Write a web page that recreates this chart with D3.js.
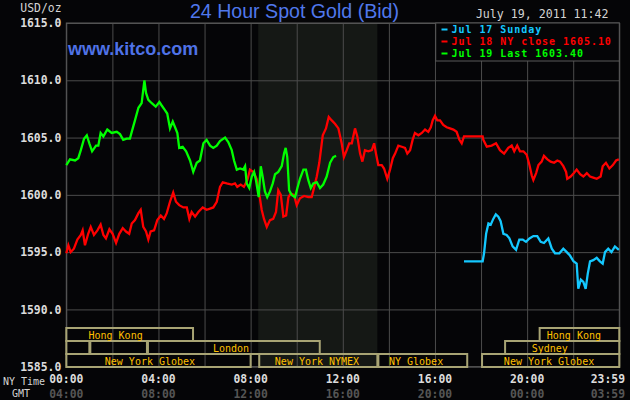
<!DOCTYPE html>
<html>
<head>
<meta charset="utf-8">
<script src="https://cdn.jsdelivr.net/npm/d3@7"></script>
<style>
  html, body { margin: 0; padding: 0; background: #050507; }
  svg { display: block; }
</style>
</head>
<body>
<svg width="630" height="400"></svg>
<script>
// values, [NY hour, USD/oz]
const jul19 = [[0,1602.6],[0.16,1603.1],[0.38,1603.0],[0.52,1603.2],[0.63,1603.9],[0.77,1604.9],[0.89,1605.2],[1.00,1604.5],
  [1.12,1603.8],[1.29,1604.3],[1.39,1604.3],[1.49,1605.4],[1.61,1605.1],[1.78,1605.7],[1.97,1605.4],[2.19,1605.5],[2.33,1605.3],
  [2.47,1604.8],[2.62,1604.9],[2.76,1604.9],[2.84,1605.5],[2.98,1606.5],[3.13,1607.6],[3.27,1608.0],[3.39,1610.0],[3.46,1608.9],
  [3.56,1608.3],[3.71,1608.0],[3.88,1607.7],[4.04,1608.1],[4.14,1607.8],[4.28,1607.4],[4.38,1607.1],[4.50,1605.8],[4.62,1606.4],
  [4.72,1605.9],[4.82,1605.4],[4.90,1604.1],[5.05,1604.2],[5.20,1603.8],[5.37,1603.0],[5.51,1602.0],[5.66,1602.8],[5.80,1603.0],
  [5.95,1604.5],[6.09,1604.8],[6.24,1604.3],[6.38,1604.1],[6.53,1604.3],[6.67,1604.7],[6.89,1605.0],[7.03,1604.6],[7.18,1603.9],
  [7.28,1603.0],[7.40,1602.2],[7.54,1602.3],[7.68,1602.2],[7.76,1602.5],[7.83,1601.0],[7.94,1600.6],[8.05,1601.6],[8.15,1602.0],
  [8.23,1601.3],[8.35,1599.8],[8.44,1602.5],[8.52,1601.6],[8.62,1600.3],[8.72,1599.8],[8.84,1600.3],[8.96,1601.0],[9.06,1601.8],
  [9.20,1602.0],[9.35,1602.5],[9.45,1603.6],[9.52,1604.1],[9.59,1603.3],[9.67,1600.4],[9.78,1600.0],[9.93,1599.8],[10.03,1600.6],
  [10.14,1601.4],[10.29,1602.2],[10.40,1602.2],[10.50,1601.3],[10.61,1600.6],[10.72,1601.0],[10.87,1601.1],[11.01,1600.6],
  [11.15,1600.9],[11.30,1601.6],[11.45,1602.8],[11.59,1603.3],[11.71,1603.4]];

const jul18 = [[0,1594.9],[0.09,1595.6],[0.19,1595.0],[0.33,1595.3],[0.48,1596.1],[0.63,1596.5],[0.71,1596.9],[0.81,1595.6],
  [0.95,1596.6],[1.06,1597.2],[1.20,1596.5],[1.35,1596.9],[1.49,1597.4],[1.61,1596.5],[1.72,1596.2],[1.87,1597.0],[2.01,1596.6],
  [2.16,1595.8],[2.30,1596.6],[2.45,1597.1],[2.59,1596.8],[2.73,1596.6],[2.84,1597.5],[2.98,1597.8],[3.13,1598.4],[3.23,1598.7],
  [3.34,1597.2],[3.46,1596.8],[3.56,1596.1],[3.66,1596.8],[3.81,1596.9],[3.95,1597.8],[4.10,1598.2],[4.24,1597.9],[4.36,1598.4],
  [4.50,1599.4],[4.64,1600.2],[4.76,1599.4],[4.90,1599.1],[5.08,1598.9],[5.23,1598.9],[5.34,1597.9],[5.44,1598.5],[5.59,1598.1],
  [5.73,1598.5],[5.92,1598.9],[6.09,1598.7],[6.24,1598.8],[6.38,1598.9],[6.53,1599.4],[6.67,1600.7],[6.79,1601.1],[6.96,1601.0],
  [7.18,1600.9],[7.32,1601.0],[7.42,1600.7],[7.57,1600.9],[7.71,1600.7],[7.86,1601.3],[7.97,1602.2],[8.12,1602.0],[8.26,1601.4],
  [8.38,1600.0],[8.48,1598.7],[8.58,1597.9],[8.70,1597.2],[8.84,1597.8],[8.98,1597.9],[9.10,1598.5],[9.20,1600.4],[9.31,1600.0],
  [9.42,1598.1],[9.54,1598.2],[9.64,1599.8],[9.74,1600.1],[9.88,1600.0],[10.00,1599.1],[10.14,1599.7],[10.32,1599.9],[10.50,1599.8],
  [10.65,1599.8],[10.75,1600.6],[10.87,1601.6],[10.98,1602.8],[11.13,1605.2],[11.27,1605.8],[11.39,1606.8],[11.52,1606.5],
  [11.66,1606.2],[11.81,1605.8],[11.95,1604.5],[12.05,1603.3],[12.17,1603.9],[12.28,1604.5],[12.39,1604.5],[12.53,1605.8],
  [12.63,1605.1],[12.75,1603.6],[12.85,1602.9],[12.96,1603.9],[13.11,1603.8],[13.26,1603.9],[13.36,1604.5],[13.44,1603.6],
  [13.54,1602.6],[13.69,1602.6],[13.79,1602.3],[13.93,1601.4],[14.05,1602.2],[14.17,1603.2],[14.27,1603.6],[14.41,1604.3],
  [14.56,1604.2],[14.70,1604.1],[14.80,1603.6],[14.92,1603.9],[15.03,1604.8],[15.13,1605.4],[15.28,1605.2],[15.43,1605.4],
  [15.57,1605.7],[15.71,1605.5],[15.82,1605.9],[15.90,1606.5],[16.00,1606.9],[16.10,1606.5],[16.22,1606.5],[16.36,1606.1],
  [16.51,1605.9],[16.65,1605.8],[16.80,1605.7],[16.94,1605.5],[17.06,1604.8],[17.16,1604.5],[17.26,1605.1],[18.07,1605.1],
  [18.10,1604.8],[18.25,1604.2],[18.46,1604.3],[18.65,1604.5],[18.82,1603.9],[19.00,1603.6],[19.18,1604.1],[19.33,1604.3],
  [19.44,1603.8],[19.57,1604.3],[19.69,1603.8],[19.84,1603.8],[19.98,1603.5],[20.10,1602.6],[20.20,1601.7],[20.27,1601.3],
  [20.39,1601.9],[20.49,1602.6],[20.63,1602.9],[20.73,1603.4],[20.88,1603.1],[21.02,1602.9],[21.17,1602.8],[21.31,1603.0],
  [21.43,1602.9],[21.57,1602.5],[21.69,1602.0],[21.74,1601.4],[21.89,1601.6],[22.03,1601.9],[22.15,1602.2],[22.30,1601.8],
  [22.44,1601.6],[22.59,1601.9],[22.73,1601.6],[22.87,1601.5],[23.02,1601.4],[23.19,1601.6],[23.28,1602.5],[23.42,1602.8],
  [23.57,1602.3],[23.72,1602.6],[23.86,1603.0],[23.98,1603.1]];

const jul17 = [[17.26,1594.2],[18.07,1594.2],[18.13,1594.9],[18.22,1596.6],[18.32,1597.5],[18.42,1597.4],[18.53,1597.9],
  [18.64,1598.3],[18.75,1598.1],[18.85,1597.7],[18.97,1596.6],[19.11,1596.5],[19.23,1596.2],[19.37,1595.5],[19.52,1595.2],
  [19.66,1596.1],[19.81,1596.1],[19.95,1595.9],[20.10,1596.2],[20.27,1596.4],[20.44,1596.4],[20.59,1595.9],[20.73,1595.8],
  [20.92,1596.2],[21.07,1595.3],[21.21,1594.9],[21.40,1594.9],[21.57,1595.3],[21.72,1595.0],[21.86,1594.7],[22.01,1594.2],
  [22.15,1594.0],[22.22,1591.8],[22.33,1592.6],[22.44,1592.4],[22.54,1591.8],[22.63,1593.1],[22.73,1594.2],[22.87,1594.3],
  [23.02,1594.5],[23.16,1594.2],[23.28,1594.0],[23.38,1595.0],[23.52,1595.3],[23.66,1595.0],[23.81,1595.5],[23.98,1595.2]];

const yTicks = [1585, 1590, 1595, 1600, 1605, 1610, 1615];
const gridHours = [0, 2, 4, 6, 8, 10, 12, 14, 16, 18, 20, 22, 24];
const labelHours = [0, 4, 8, 12, 16, 20, 24];
const nyLabels = ["00:00", "04:00", "08:00", "12:00", "16:00", "20:00", "23:59"];
const gmtLabels = ["04:00", "08:00", "12:00", "16:00", "20:00", "00:00", "03:59"];

const legendLabels = ["Jul 17 Sunday", "Jul 18 NY close 1605.10", "Jul 19 Last 1603.40"];
const seriesColors = ["#14c8ff", "#ff0000", "#00ff00"];

// market sessions: row, start hour, end hour, name, hour where the name sits
const sessions = [
  [0, 0, 5.5, "Hong Kong", 2.14],
  [0, 20.5, 24, "Hong Kong", 22.03],
  [1, 0, 1, "", 0],
  [1, 1, 3.5, "", 0],
  [1, 3.5, 11, "London", 7.15],
  [1, 19, 24, "Sydney", 20.98],
  [2, 0, 8, "New York Globex", 3.63],
  [2, 8.33, 13.5, "New York NYMEX", 10.88],
  [2, 13.5, 17.4, "NY Globex", 15.18],
  [2, 18, 24, "New York Globex", 20.95]
];
const nymexHours = [8.33, 13.5];

const mono = "'DejaVu Sans Mono', monospace";
const gridColor = "#4c4c4c";

const x = d3.scaleLinear().domain([0, 24]).range([66.3, 619.3]);
const y = d3.scaleLinear().domain([1585, 1615]).range([366.7, 23]);

const svg = d3.select("svg");

svg.append("rect")
    .attr("width", 630).attr("height", 400)
    .attr("fill", "#050507");

// NYMEX floor hours
svg.append("rect")
    .attr("x", x(nymexHours[0]))
    .attr("y", y(1615))
    .attr("width", x(nymexHours[1]) - x(nymexHours[0]))
    .attr("height", y(1585) - y(1615))
    .attr("fill", "#151815");

// gridlines + y labels
const yAxis = svg.append("g")
    .attr("transform", `translate(${x(0)},0)`)
    .call(d3.axisLeft(y)
        .tickValues(yTicks)
        .tickSize(-(x(24) - x(0)))
        .tickPadding(5)
        .tickFormat(d => d.toFixed(1)));
yAxis.select(".domain").remove();
yAxis.selectAll(".tick line").attr("stroke", gridColor);
yAxis.selectAll(".tick text")
    .attr("fill", "#dcdcdc")
    .attr("font-family", mono)
    .attr("font-weight", "bold")
    .attr("font-size", 11.4);

const xAxis = svg.append("g")
    .attr("transform", `translate(0,${y(1585)})`)
    .call(d3.axisBottom(x)
        .tickValues(gridHours)
        .tickSize(-(y(1585) - y(1615)))
        .tickFormat(""));
xAxis.select(".domain").remove();
xAxis.selectAll(".tick line").attr("stroke", gridColor);

// plot frame
svg.append("rect")
    .attr("x", x(0)).attr("y", y(1615))
    .attr("width", x(24) - x(0))
    .attr("height", y(1585) - y(1615))
    .attr("fill", "none")
    .attr("stroke", "#5a5a5a");

// market session boxes
const rowTop = [328, 341, 354];
const rowH = 13;
const sess = svg.append("g");
sess.selectAll("rect")
    .data(sessions)
    .enter().append("rect")
    .attr("x", d => x(d[1]) + (d[1] > 0 ? 1 : 0))
    .attr("y", d => rowTop[d[0]])
    .attr("width", d => x(d[2]) - x(d[1]) - (d[1] > 0 ? 1 : 0))
    .attr("height", rowH)
    .attr("fill", "none")
    .attr("stroke", "#a8a474")
    .attr("stroke-width", 2);
sess.selectAll("text")
    .data(sessions.filter(d => d[3]))
    .enter().append("text")
    .attr("x", d => x(d[4]))
    .attr("y", d => rowTop[d[0]] + 10.5)
    .attr("text-anchor", "middle")
    .attr("fill", "#ffc000")
    .attr("font-family", mono)
    .attr("font-size", 10)
    .text(d => d[3]);

// price lines
const line = d3.line()
    .x(d => x(d[0]))
    .y(d => y(d[1]));

[jul17, jul18, jul19].forEach((series, i) => {
    svg.append("path")
        .datum(series)
        .attr("d", line)
        .attr("fill", "none")
        .attr("stroke", seriesColors[i])
        .attr("stroke-width", 2.3)
        .attr("stroke-linejoin", "miter");
});

// legend
svg.append("rect")
    .attr("x", 435.7).attr("y", y(1615))
    .attr("width", x(24) - 435.7)
    .attr("height", 38)
    .attr("fill", "#050507")
    .attr("stroke", "#5a5a5a");

const leg = svg.append("g").selectAll("g")
    .data(legendLabels)
    .enter().append("g")
    .attr("transform", (d, i) => `translate(441.5,${33 + i * 12})`);
leg.append("line")
    .attr("x1", 0).attr("x2", 6)
    .attr("y1", -3.5).attr("y2", -3.5)
    .attr("stroke", (d, i) => seriesColors[i])
    .attr("stroke-width", 2);
leg.append("text")
    .attr("x", 10)
    .attr("fill", (d, i) => seriesColors[i])
    .attr("font-family", mono)
    .attr("font-weight", "bold")
    .attr("font-size", 10)
    .attr("letter-spacing", 0.95)
    .text(d => d);

// titles
svg.append("text")
    .attr("x", 294.5).attr("y", 17.5)
    .attr("text-anchor", "middle")
    .attr("fill", "#5078ec")
    .attr("font-family", "'Liberation Sans', Arial, sans-serif")
    .attr("font-size", 19.6)
    .text("24 Hour Spot Gold (Bid)");

svg.append("text")
    .attr("x", 68).attr("y", 55)
    .attr("fill", "#4f72e6")
    .attr("font-family", "'Liberation Sans', Arial, sans-serif")
    .attr("font-weight", "bold")
    .attr("font-size", 18)
    .text("www.kitco.com");

svg.append("text")
    .attr("x", 608.5).attr("y", 18)
    .attr("text-anchor", "end")
    .attr("fill", "#d4d4d4")
    .attr("font-family", mono)
    .attr("font-size", 11.6)
    .text("July 19, 2011 11:42");

svg.append("text")
    .attr("x", 61.5).attr("y", 12)
    .attr("text-anchor", "end")
    .attr("fill", "#d4d4d4")
    .attr("font-family", mono)
    .attr("font-size", 11.4)
    .text("USD/oz");

// time labels
const timeRow = (labels, yy, color) => {
    svg.append("g").selectAll("text")
        .data(labels)
        .enter().append("text")
        .attr("x", (d, i) => i === labels.length - 1 ? 625 : x(labelHours[i]))
        .attr("y", yy)
        .attr("text-anchor", (d, i) => i === labels.length - 1 ? "end" : "middle")
        .attr("fill", color)
        .attr("font-family", mono)
        .attr("font-weight", "bold")
        .attr("font-size", 11.4)
        .text(d => d);
};
timeRow(nyLabels, 382.5, "#dcdcdc");
timeRow(gmtLabels, 397.5, "#555555");

svg.append("text")
    .attr("x", 3).attr("y", 384.5)
    .attr("fill", "#d4d4d4")
    .attr("font-family", mono)
    .attr("font-size", 10)
    .text("NY Time");
svg.append("text")
    .attr("x", 12).attr("y", 397)
    .attr("fill", "#d4d4d4")
    .attr("font-family", mono)
    .attr("font-size", 10)
    .text("GMT");
</script>
</body>
</html>
